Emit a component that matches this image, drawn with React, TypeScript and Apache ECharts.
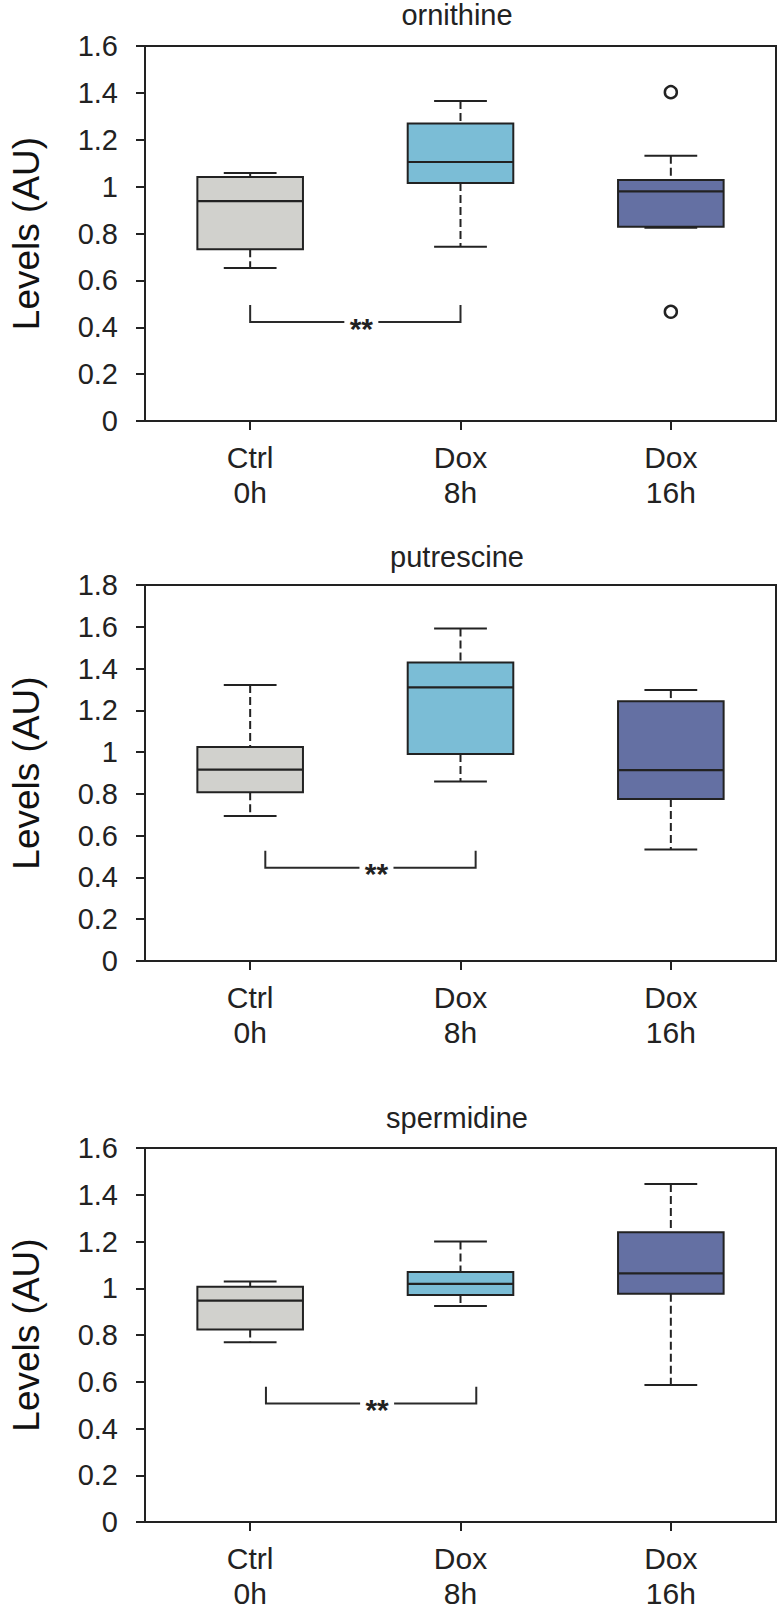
import React, { useEffect, useRef } from 'react';
import * as echarts from 'echarts';

// ---- Data ----
const categories = ['Ctrl\n0h', 'Dox\n8h', 'Dox\n16h'];
const panelTitles = ['ornithine', 'putrescine', 'spermidine'];
const yAxisMax = [1.6, 1.8, 1.6];
const yAxisInterval = 0.2;

// each box: [low whisker, Q1, median, Q3, high whisker]
const ornithineBoxes = [
  [0.653, 0.733, 0.938, 1.041, 1.058],
  [0.743, 1.015, 1.105, 1.269, 1.365],
  [0.825, 0.829, 0.98, 1.028, 1.132],
];
const putrescineBoxes = [
  [0.694, 0.808, 0.916, 1.024, 1.321],
  [0.859, 0.991, 1.31, 1.429, 1.592],
  [0.534, 0.776, 0.914, 1.244, 1.297],
];
const spermidineBoxes = [
  [0.769, 0.824, 0.947, 1.006, 1.029],
  [0.924, 0.971, 1.019, 1.07, 1.2],
  [0.586, 0.976, 1.064, 1.24, 1.446],
];

// outliers: [category index, value]
const ornithineOutliers = [
  [2, 1.403],
  [2, 0.466],
];
const putrescineOutliers: number[][] = [];
const spermidineOutliers: number[][] = [];

// significance bracket: [from category, to category, top value, bottom value]
const ornithineBracket = [0, 1, 0.495, 0.422];
const putrescineBracket = [0, 1, 0.528, 0.446];
const spermidineBracket = [0, 1, 0.579, 0.507];
const bracketLabel = '**';

// ---- Styles / layout ----
const FONT = '"Liberation Sans", Arial, Helvetica, sans-serif';
const INK = '#222222';
const boxColors = ['#d1d1cd', '#7bbdd6', '#6470a3'];
const gridTops = [46, 585, 1148];
const gridHeights = [375, 376, 374];
const bracketShift = [0, 0.072, 0.075]; // in category band units
const titleTops = [0, 542, 1103];

const panels = [
  { boxes: ornithineBoxes, outliers: ornithineOutliers, bracket: ornithineBracket },
  { boxes: putrescineBoxes, outliers: putrescineOutliers, bracket: putrescineBracket },
  { boxes: spermidineBoxes, outliers: spermidineOutliers, bracket: spermidineBracket },
];

function boxRenderItem(params: any, api: any) {
  const ci = api.value(0);
  const low = api.coord([ci, api.value(1)]);
  const q1 = api.coord([ci, api.value(2)]);
  const med = api.coord([ci, api.value(3)]);
  const q3 = api.coord([ci, api.value(4)]);
  const high = api.coord([ci, api.value(5)]);
  const band = api.size([1, 0])[0];
  const bw = band * 0.502;
  const cw = bw / 2;
  const cx = low[0];
  const lineStyle = { stroke: INK, lineWidth: 2 };
  const dashStyle = { stroke: INK, lineWidth: 2, lineDash: [8, 4] };
  return {
    type: 'group',
    children: [
      { type: 'line', shape: { x1: cx, y1: high[1], x2: cx, y2: q3[1] }, style: dashStyle },
      { type: 'line', shape: { x1: cx, y1: q1[1], x2: cx, y2: low[1] }, style: dashStyle },
      { type: 'line', shape: { x1: cx - cw / 2, y1: high[1], x2: cx + cw / 2, y2: high[1] }, style: lineStyle },
      { type: 'line', shape: { x1: cx - cw / 2, y1: low[1], x2: cx + cw / 2, y2: low[1] }, style: lineStyle },
      {
        type: 'rect',
        shape: { x: cx - bw / 2, y: q3[1], width: bw, height: q1[1] - q3[1] },
        style: { fill: boxColors[ci], stroke: INK, lineWidth: 2 },
      },
      { type: 'line', shape: { x1: cx - bw / 2, y1: med[1], x2: cx + bw / 2, y2: med[1] }, style: { stroke: INK, lineWidth: 2.2 } },
    ],
  };
}

function makeBracketRenderItem(shift: number) {
  return function (params: any, api: any) {
    const band = api.size([1, 0])[0];
    const off = shift * band;
    const a = api.coord([api.value(0), api.value(2)]);
    const b = api.coord([api.value(1), api.value(3)]);
    const x1 = a[0] + off;
    const x2 = b[0] + off;
    const yt = a[1];
    const yb = b[1];
    const mid = (x1 + x2) / 2 + 6;
    const st = { stroke: '#2a2a2a', lineWidth: 2, fill: null };
    return {
      type: 'group',
      children: [
        { type: 'polyline', shape: { points: [[x1, yt], [x1, yb], [mid - 17, yb]] }, style: st },
        { type: 'polyline', shape: { points: [[mid + 17, yb], [x2, yb], [x2, yt]] }, style: st },
        {
          type: 'text',
          style: {
            text: bracketLabel,
            x: mid,
            y: yb + 6,
            align: 'center',
            verticalAlign: 'middle',
            fontSize: 30,
            fontWeight: 'bold',
            fontFamily: FONT,
            fill: INK,
          },
        },
      ],
    };
  };
}

export default function App() {
  const ref = useRef<HTMLDivElement>(null);
  useEffect(() => {
    if (!ref.current) return;
    const chart = echarts.init(ref.current, undefined, { renderer: 'svg' });
    const grid: any[] = [];
    const xAxis: any[] = [];
    const yAxis: any[] = [];
    const series: any[] = [];
    const title: any[] = [];
    panels.forEach((p, i) => {
      grid.push({
        left: 139,
        right: 5,
        top: gridTops[i],
        height: gridHeights[i],
        show: true,
        borderColor: INK,
        borderWidth: 2,
        backgroundColor: 'transparent',
      });
      title.push({
        text: panelTitles[i],
        left: 457,
        textAlign: 'center',
        top: titleTops[i],
        padding: 0,
        textStyle: { fontSize: 29, fontWeight: 'normal', color: INK, fontFamily: FONT },
      });
      xAxis.push({
        type: 'category',
        gridIndex: i,
        data: categories,
        boundaryGap: true,
        axisLine: { show: true, lineStyle: { color: INK, width: 2 } },
        axisTick: { show: true, alignWithLabel: true, length: 9, lineStyle: { color: INK, width: 2 } },
        axisLabel: { fontSize: 30, lineHeight: 35, color: INK, fontFamily: FONT, margin: 19 },
        splitLine: { show: false },
      });
      yAxis.push({
        type: 'value',
        gridIndex: i,
        min: 0,
        max: yAxisMax[i],
        interval: yAxisInterval,
        name: 'Levels (AU)',
        nameLocation: 'middle',
        nameRotate: 90,
        nameGap: 100,
        nameTextStyle: { fontSize: 37, color: '#111111', fontFamily: FONT },
        axisLine: { show: true, lineStyle: { color: INK, width: 2 } },
        axisTick: { show: true, length: 9, lineStyle: { color: INK, width: 2 } },
        axisLabel: {
          fontSize: 29,
          color: INK,
          fontFamily: FONT,
          margin: 27,
          formatter: (v: number) => String(Math.round(v * 10) / 10),
        },
        splitLine: { show: false },
      });
      series.push({
        type: 'custom',
        xAxisIndex: i,
        yAxisIndex: i,
        renderItem: boxRenderItem,
        encode: { x: 0, y: [1, 2, 3, 4, 5] },
        data: p.boxes.map((b, ci) => [ci, ...b]),
        z: 2,
      });
      series.push({
        type: 'scatter',
        xAxisIndex: i,
        yAxisIndex: i,
        data: p.outliers,
        symbol: 'circle',
        symbolSize: 12,
        itemStyle: { color: '#ffffff', borderColor: INK, borderWidth: 2.5, opacity: 1 },
        z: 3,
      });
      series.push({
        type: 'custom',
        xAxisIndex: i,
        yAxisIndex: i,
        renderItem: makeBracketRenderItem(bracketShift[i]),
        encode: { x: [0, 1], y: [2, 3] },
        data: [p.bracket],
        z: 3,
      });
    });
    chart.setOption({
      animation: false,
      backgroundColor: '#ffffff',
      title,
      grid,
      xAxis,
      yAxis,
      series,
    });
    return () => chart.dispose();
  }, []);
  return (
    <div
      ref={ref}
      style={{ position: 'absolute', left: 0, top: 0, width: 781, height: 1614, background: '#fff' }}
    />
  );
}
